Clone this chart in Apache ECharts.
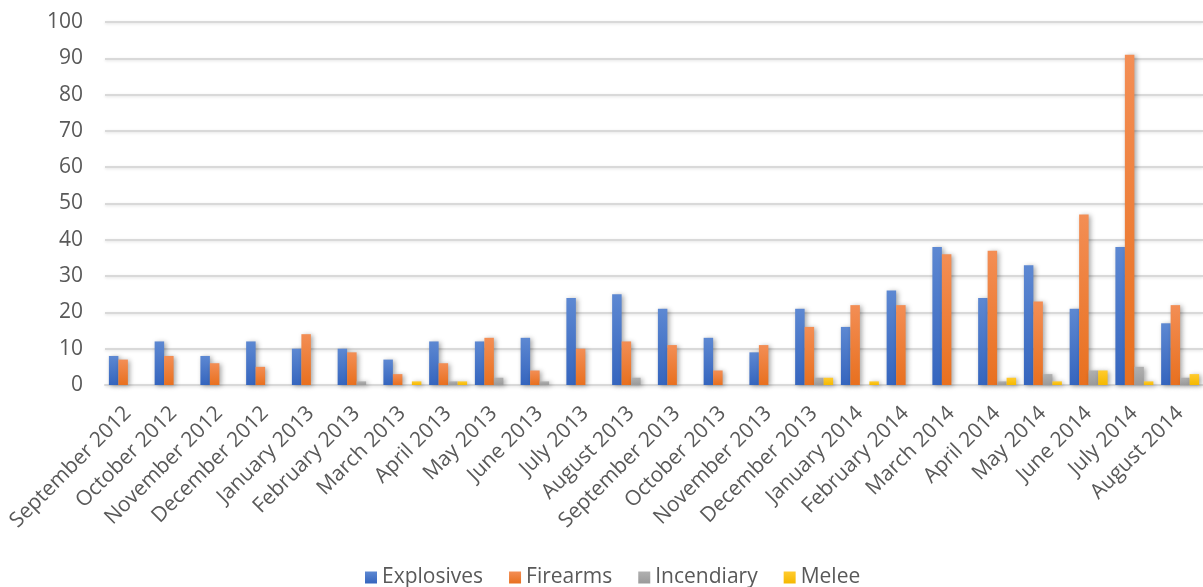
<!DOCTYPE html>
<html>
<head>
<meta charset="utf-8">
<script src="https://cdn.jsdelivr.net/npm/echarts@6/dist/echarts.min.js"></script>
<style>
  html, body { margin: 0; padding: 0; background: #ffffff; }
  #chart { width: 1203px; height: 587px; }
</style>
</head>
<body>
<div id="chart"></div>
<script>
// Monthly incident counts by weapon type
const months = [
  'September 2012', 'October 2012', 'November 2012', 'December 2012',
  'January 2013', 'February 2013', 'March 2013', 'April 2013',
  'May 2013', 'June 2013', 'July 2013', 'August 2013',
  'September 2013', 'October 2013', 'November 2013', 'December 2013',
  'January 2014', 'February 2014', 'March 2014', 'April 2014',
  'May 2014', 'June 2014', 'July 2014', 'August 2014'
];
const explosives = [8, 12, 8, 12, 10, 10, 7, 12, 12, 13, 24, 25, 21, 13, 9, 21, 16, 26, 38, 24, 33, 21, 38, 17];
const firearms   = [7, 8, 6, 5, 14, 9, 3, 6, 13, 4, 10, 12, 11, 4, 11, 16, 22, 22, 36, 37, 23, 47, 91, 22];
const incendiary = [0, 0, 0, 0, 0, 1, 0, 1, 2, 1, 0, 2, 0, 0, 0, 2, 0, 0, 0, 1, 3, 4, 5, 2];
const melee      = [0, 0, 0, 0, 0, 0, 1, 1, 0, 0, 0, 0, 0, 0, 0, 2, 1, 0, 0, 2, 1, 4, 1, 3];
const yTicks = { min: 0, max: 100, interval: 10 };

const textColor = '#595959';
const font = '"Open Sans", "Liberation Sans", sans-serif';

function grad(top, bottom) {
  return new echarts.graphic.LinearGradient(0, 0, 0, 1, [
    { offset: 0, color: top },
    { offset: 1, color: bottom }
  ]);
}

function barSeries(name, data, top, bottom) {
  return {
    name: name,
    type: 'bar',
    data: data,
    barGap: '0%',
    barCategoryGap: '17%',
    itemStyle: {
      color: grad(top, bottom),
      shadowColor: 'rgba(0,0,0,0.35)',
      shadowBlur: 5,
      shadowOffsetX: 2,
      shadowOffsetY: 1
    }
  };
}

const chart = echarts.init(document.getElementById('chart'), null, { renderer: 'canvas' });
chart.setOption({
  animation: false,
  backgroundColor: '#ffffff',
  textStyle: { fontFamily: font },
  grid: { left: 105, right: 0, top: 22, bottom: 202, containLabel: false },
  legend: {
    left: 360,
    top: 562,
    itemWidth: 12,
    itemHeight: 12,
    itemGap: 26,
    icon: 'rect',
    textStyle: { color: textColor, fontSize: 21, fontFamily: font },
    data: ['Explosives', 'Firearms', 'Incendiary', 'Melee']
  },
  xAxis: {
    type: 'category',
    data: months,
    axisTick: { show: false },
    axisLine: { lineStyle: { color: '#d9d9d9', width: 2 } },
    axisLabel: {
      rotate: 45,
      interval: 0,
      margin: 25,
      color: textColor,
      fontSize: 21,
      fontFamily: font
    }
  },
  yAxis: {
    type: 'value',
    min: yTicks.min,
    max: yTicks.max,
    interval: yTicks.interval,
    axisLine: { show: false },
    axisTick: { show: false },
    axisLabel: { color: textColor, fontSize: 21, margin: 22, fontFamily: font },
    splitLine: {
      lineStyle: {
        color: '#d9d9d9',
        width: 2,
        shadowColor: 'rgba(0,0,0,0.12)',
        shadowBlur: 3,
        shadowOffsetY: 1
      }
    }
  },
  series: [
    barSeries('Explosives', explosives, '#5d88d2', '#3565be'),
    barSeries('Firearms', firearms, '#f38e55', '#e8701f'),
    barSeries('Incendiary', incendiary, '#b0b0b0', '#9a9a9a'),
    barSeries('Melee', melee, '#ffcb2e', '#f5b800')
  ]
});
</script>
</body>
</html>
